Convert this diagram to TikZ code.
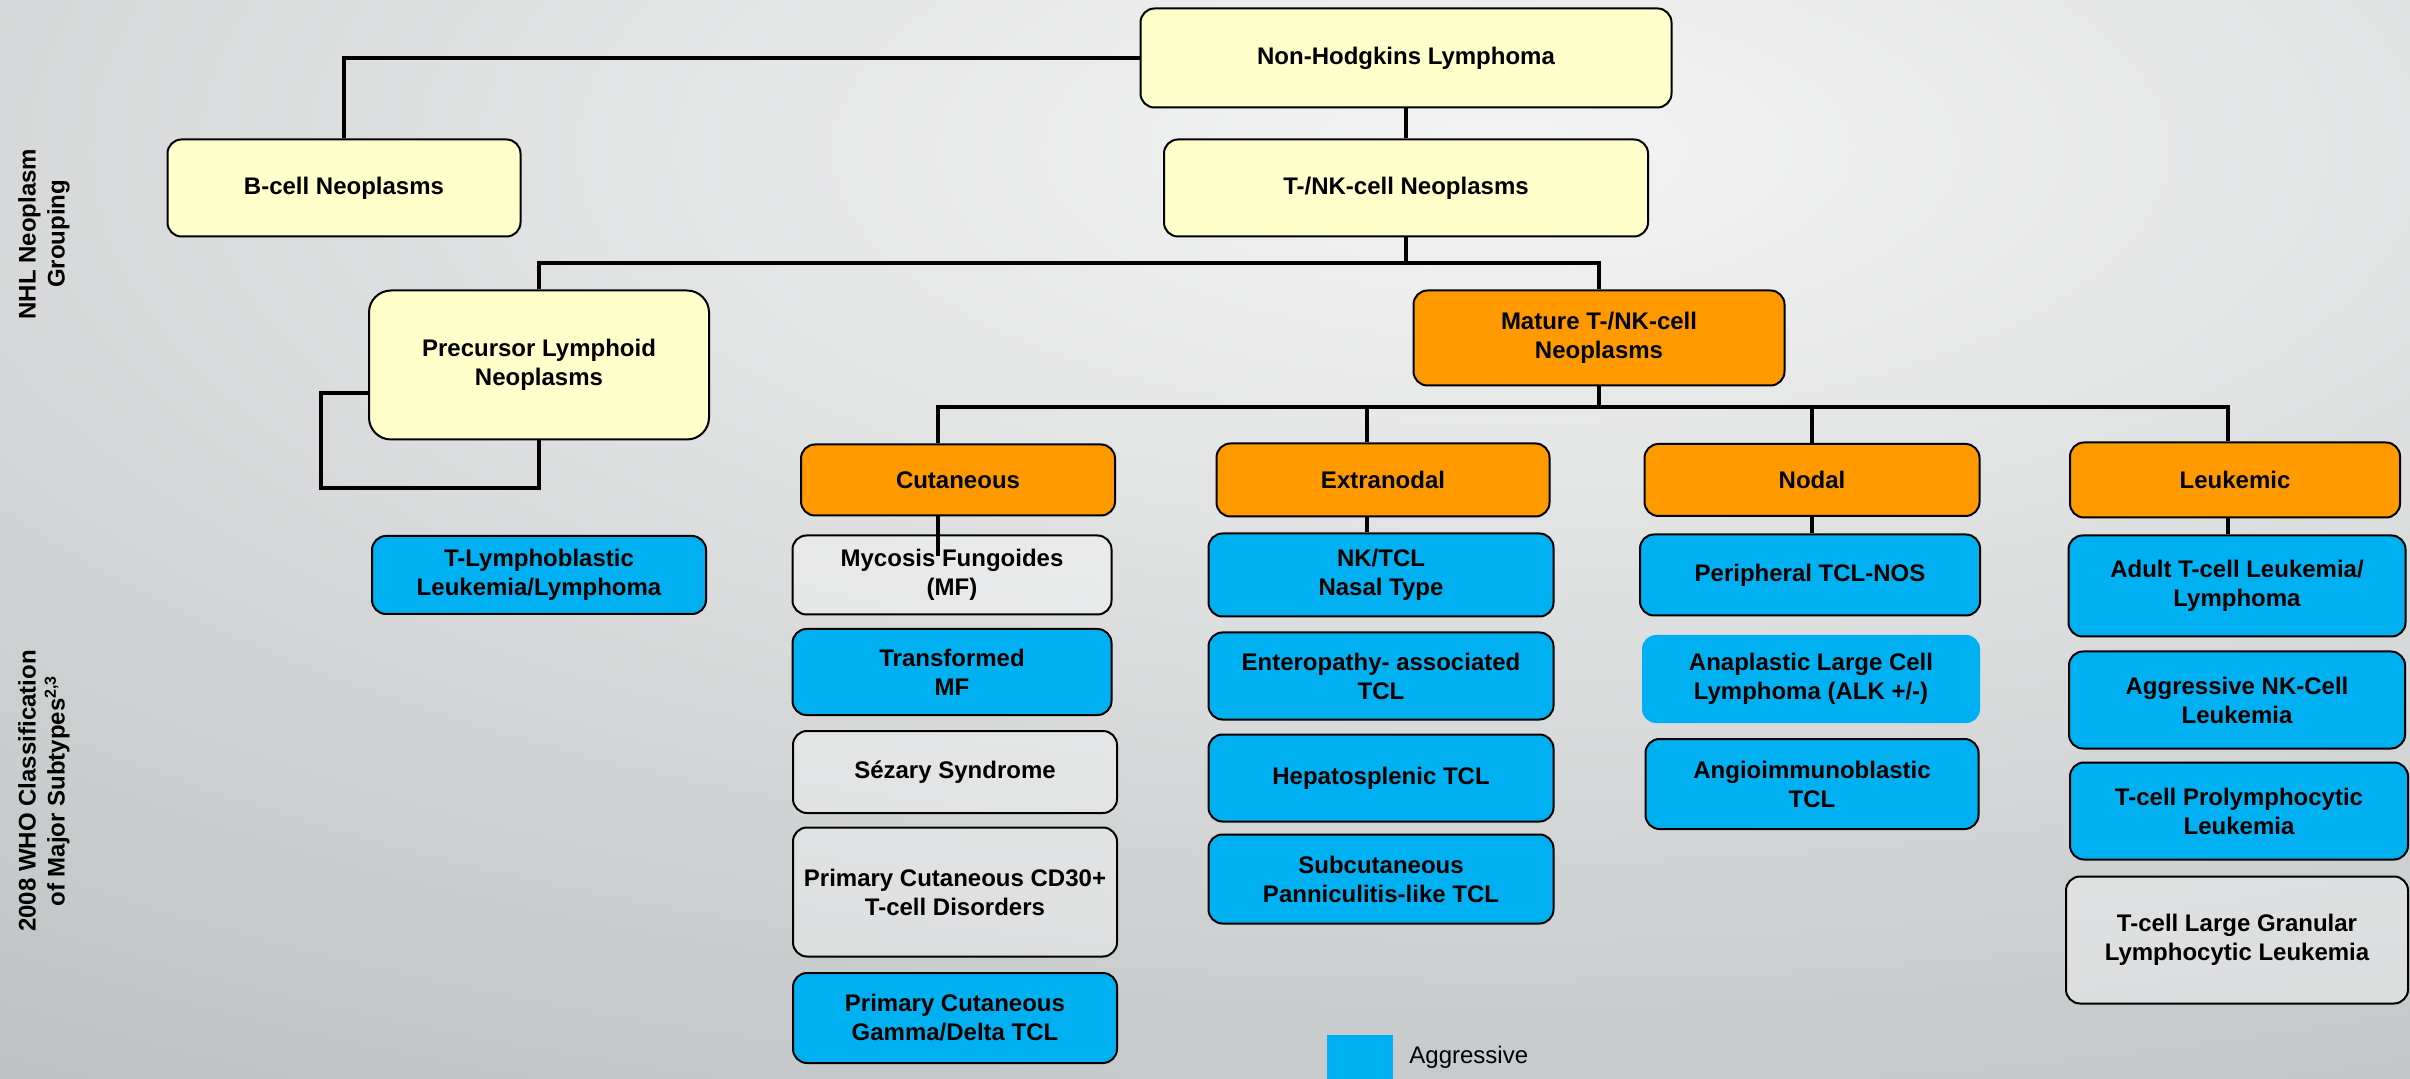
\documentclass[tikz,border=0pt]{standalone}
\usepackage{fontspec}
\setmainfont{Liberation Sans}
\definecolor{nhlyellow}{HTML}{FFFFCC}
\definecolor{nhlorange}{HTML}{FF9900}
\definecolor{nhlblue}{HTML}{00B0F0}
\definecolor{bginner}{RGB}{244,244,244}
\definecolor{bgouter}{RGB}{172,177,179}
\tikzset{
    box/.style={draw=black,line width=1pt,rounded corners=7pt,align=center,inner sep=0pt,
        font=\fontsize{12}{14.5}\selectfont\bfseries},
    wh/.style 2 args={minimum width=#1*0.5pt,minimum height=#2*0.5pt},
    ybox/.style={box,fill=nhlyellow},
    obox/.style={box,fill=nhlorange},
    bbox/.style={box,fill=nhlblue},
    wbox/.style={box,fill=white,fill opacity=.35,text opacity=1},
    link/.style={line width=2pt}}
\begin{document}
\begin{tikzpicture}[x=0.5pt,y=-0.5pt]
    \clip (0,0) rectangle (2410,1079);
    \shade[inner color=bginner,outer color=bgouter] (1500,150) ellipse (3600 and 1480);
    \node[ybox,wh={531}{99}] (nhl) at (1406,58) {Non-Hodgkins Lymphoma};
    \node[ybox,wh={353}{97}] (bcell) at (344,188) {B-cell Neoplasms};
    \node[ybox,wh={484}{97}] (tnk) at (1406,188) {T-/NK-cell Neoplasms};
    \node[ybox,wh={340}{149},rounded corners=11pt] (prec) at (539,365) {Precursor Lymphoid\\Neoplasms};
    \node[obox,wh={371}{95}] (mature) at (1599,338) {Mature T-/NK-cell\\Neoplasms};
    \node[obox,wh={314}{71}] (cut) at (958,480) {Cutaneous};
    \node[obox,wh={333}{73}] (extra) at (1383,480) {Extranodal};
    \node[obox,wh={335}{72}] (nodal) at (1812,480) {Nodal};
    \node[obox,wh={330}{75}] (leuk) at (2235,480) {Leukemic};
    \node[bbox,wh={334}{78}] (tlbl) at (539,575) {T-Lymphoblastic\\Leukemia/Lymphoma};
    \node[wbox,wh={319}{79}] (mf) at (952,575) {Mycosis Fungoides\\(MF)};
    \node[bbox,wh={319}{86}] (tmf) at (952,672) {Transformed\\MF};
    \node[wbox,wh={324}{82}] (sezary) at (955,772) {Sézary Syndrome};
    \node[wbox,wh={324}{129}] (cd30) at (955,892) {Primary Cutaneous CD30+\\T-cell Disorders};
    \node[bbox,wh={324}{90}] (gd) at (955,1018) {Primary Cutaneous\\Gamma/Delta TCL};
    \node[bbox,wh={345}{83}] (nktcl) at (1381,575) {NK/TCL\\Nasal Type};
    \node[bbox,wh={345}{87}] (eatcl) at (1381,676) {Enteropathy- associated\\TCL};
    \node[bbox,wh={345}{87}] (hstcl) at (1381,778) {Hepatosplenic TCL};
    \node[bbox,wh={345}{89}] (sptcl) at (1381,879) {Subcutaneous\\Panniculitis-like TCL};
    \node[bbox,wh={340}{81}] (ptcl) at (1810,575) {Peripheral TCL-NOS};
    \node[bbox,wh={338}{88},draw=none] (alcl) at (1811,679) {Anaplastic Large Cell\\Lymphoma (ALK +/-)};
    \node[bbox,wh={333}{90}] (aitl) at (1812,784) {Angioimmunoblastic\\TCL};
    \node[bbox,wh={337}{101}] (atll) at (2237,586) {Adult T-cell Leukemia/\\Lymphoma};
    \node[bbox,wh={336}{97}] (ankl) at (2237,700) {Aggressive NK-Cell\\Leukemia};
    \node[bbox,wh={338}{97}] (tpll) at (2239,811) {T-cell Prolymphocytic\\Leukemia};
    \node[wbox,wh={342}{127}] (tlgl) at (2237,940) {T-cell Large Granular\\Lymphocytic Leukemia};
    \node[box,draw=none,rotate=90] (grp) at (44,234) {NHL Neoplasm\\Grouping};
    \node[box,draw=none,rotate=90] (who) at (44,791) {2008 WHO Classification\\of Major Subtypes\textsuperscript{2,3}};
    \node[fill=nhlblue,wh={66}{66},inner sep=0pt] (legsq) at (1360,1068) {};
    \node[anchor=west,inner sep=0pt,font=\fontsize{12}{14}\selectfont] (legtxt) at (1409,1057) {Aggressive};
    \coordinate (j1) at (1406,263);
    \coordinate (j2) at (1599,407);
    \coordinate (ploop) at (321,488);
    \coordinate (cx) at ([xshift=-10pt]cut.north);
    \coordinate (ex) at ([xshift=-8pt]extra.north);
    \coordinate (lx) at ([xshift=-3.5pt]leuk.north);
    \draw[link] (nhl.west) -| (bcell.north);
    \draw[link] (nhl.south) -- (tnk.north);
    \draw[link] (tnk.south) -- (j1);
    \draw[link] (prec.north) |- (j1) -| (mature.north);
    \draw[link] ([yshift=-14pt]prec.west) -| (ploop) -| (prec.south);
    \draw[link] (mature.south) -- (j2);
    \draw[link] (cx) -- (cx |- j2) -- (lx |- j2) -- (lx);
    \draw[link] (ex |- j2) -- (ex);
    \draw[link] (nodal.north |- j2) -- (nodal.north);
    \draw[link] (cx |- cut.south) -- ++(0,40);
    \draw[link] (ex |- extra.south) -- (ex |- nktcl.north);
    \draw[link] (nodal.south) -- (nodal.south |- ptcl.north);
    \draw[link] (lx |- leuk.south) -- (lx |- atll.north);
\end{tikzpicture}
\end{document}
